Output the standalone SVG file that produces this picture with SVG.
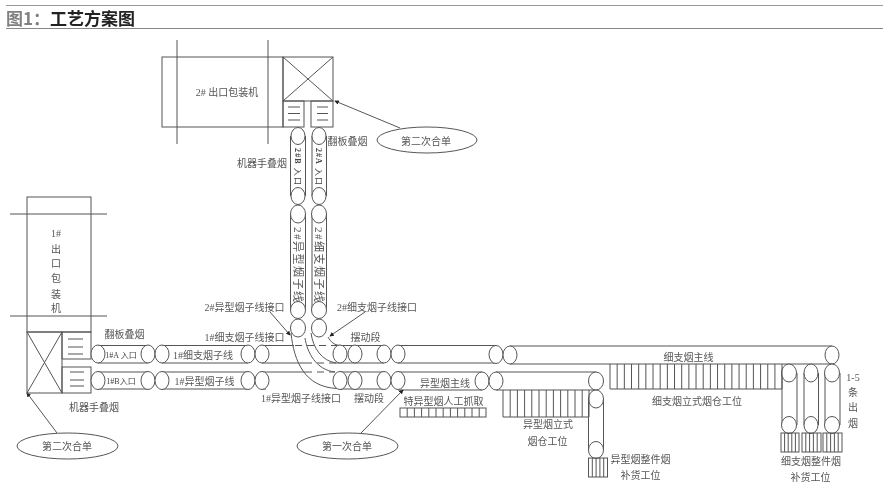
<svg xmlns="http://www.w3.org/2000/svg" width="883" height="487" viewBox="0 0 883 487">
<defs>
<style>
.l{fill:none;stroke:#555;stroke-width:1}
.f{fill:#fff;stroke:#555;stroke-width:1}
.d{fill:none;stroke:#555;stroke-width:1;stroke-dasharray:7 5}
.a{fill:none;stroke:#555;stroke-width:1;marker-end:url(#dot)}
text{font-family:"Liberation Serif","Noto Sans CJK SC",serif;font-size:10px;fill:#555;text-anchor:middle}
.s{font-size:8px;fill:#444}
.b{font-weight:700}
.v{font-size:11px}
.t{font-family:"Noto Sans CJK SC","Liberation Sans",sans-serif;font-size:17px;font-weight:700;text-anchor:start}
</style>
<marker id="dot" viewBox="0 0 6 6" refX="5" refY="3" markerWidth="4.500" markerHeight="4.500" orient="auto" markerUnits="userSpaceOnUse"><path d="M0 0L6 3L0 6z" fill="#222"/></marker>
<filter id="soft" x="0" y="0" width="100%" height="100%"><feGaussianBlur stdDeviation="0.35"/></filter>
</defs>
<rect width="883" height="487" fill="#fff"/>
<g filter="url(#soft)">
<g id="header">
<path d="M6 5H883" stroke="#777" stroke-width="1.5" fill="none"/>
<path d="M6 28.500H883" stroke="#888" stroke-width="1.2" fill="none"/>
<text class="t" x="6" y="25" style="fill:#808080">图1：</text>
<text class="t" x="50" y="25" style="fill:#222">工艺方案图</text>
</g>
<g id="connectors">
<path class="l" d="M290.500 136V196M305.500 136V196M312 136V196M326.500 136V196"/>
<path class="l" d="M290.500 214V310M305.500 214V310M312 214V310M326.500 214V310"/>
<path class="l" d="M98 345.500H148M98 363H148M98 372H148M98 389H148"/>
<path class="l" d="M162 345.500H248M162 363H248M162 372H248M162 389H248"/>
<path class="l" d="M262 345.500H294M262 363H305M262 372H305M262 389H266"/>
<path class="d" d="M295 345.500H337M305 363H329M305 372H335"/>
<path class="l" d="M291 333C294 362 305 387 337 388.500"/>
<path class="l" d="M305 338C307 352 316 370 335 372"/>
<path class="l" d="M311 333C313 348 322 361 336 363"/>
<path class="l" d="M328 337C331 342 334 345 340 345.500"/>
<path class="l" d="M329 363H355M340 345.500H355M340 372H355M340 389H355"/>
<path class="l" d="M355 345.500H384M355 363H384M355 372H384M355 389H384"/>
<path class="l" d="M398 345.500H496M398 363H496M398 372H482M398 390H482"/>
<path class="l" d="M510 346H832M510 364H832"/>
<path class="l" d="M496 372H596M496 390H596"/>
<path class="l" d="M588.500 399V450M603.500 399V450"/>
<path class="l" d="M782 373V425M797 373V425M804 373V425M818.500 373V425M825 373V425M840 373V425"/>
<path class="a" d="M400 128L335 101"/>
<path class="a" d="M57 433L27 393"/>
<path class="a" d="M361 433L403 390"/>
<path class="a" d="M270 312L290 335"/>
<path class="a" d="M365 312L330 336"/>
</g>
<g id="machine-2">
<rect class="l" x="162" y="57" width="121" height="70"/>
<path class="l" d="M177 40V144M268 40V144"/>
<text x="227" y="96">2# 出口包装机</text>
</g>
<g id="merge-box-2">
<rect class="l" x="283" y="57" width="50" height="44"/>
<path class="l" d="M283 57L333 101M333 57L283 101"/>
<rect class="l" x="283" y="101" width="21" height="26"/>
<rect class="l" x="311" y="101" width="22" height="26"/>
<path class="l" d="M288 107H300M288 113.500H300M288 120H300M317 107H328M317 113.500H328M317 120H328"/>
</g>
<g id="machine-1">
<rect class="l" x="27" y="197" width="64" height="135"/>
<path class="l" d="M10 214H107M10 316H107"/>
<text x="56" y="237">1#</text>
<text x="56" y="253">出</text>
<text x="56" y="267">口</text>
<text x="56" y="282">包</text>
<text x="56" y="298">装</text>
<text x="56" y="312">机</text>
</g>
<g id="merge-box-1">
<rect class="l" x="27" y="332" width="35" height="61"/>
<path class="l" d="M27 332L62 393M62 332L27 393"/>
<rect class="l" x="62" y="332" width="29" height="27"/>
<rect class="l" x="62" y="367" width="29" height="26"/>
<path class="l" d="M68 339H83M68 347H83M68 354H83M70 372H84M70 380H84M70 386H84"/>
</g>
<g id="rollers">
<g class="f">
<ellipse cx="298" cy="136" rx="7" ry="8.500"/><ellipse cx="319" cy="136" rx="7" ry="8.500"/>
<ellipse cx="298" cy="196" rx="7" ry="8.500"/><ellipse cx="319" cy="196" rx="7" ry="8.500"/>
<ellipse cx="298" cy="214" rx="7.500" ry="9"/><ellipse cx="319" cy="214" rx="7.500" ry="9"/>
<ellipse cx="298" cy="310" rx="7.500" ry="8.500"/><ellipse cx="319" cy="310" rx="7.500" ry="8.500"/>
<ellipse cx="298" cy="328" rx="7.500" ry="9"/><ellipse cx="319" cy="328" rx="7.500" ry="9"/>
<ellipse cx="98" cy="354" rx="7" ry="9"/><ellipse cx="148" cy="354" rx="7" ry="9"/><ellipse cx="162" cy="354" rx="7" ry="9"/><ellipse cx="248" cy="354" rx="7" ry="9"/><ellipse cx="262" cy="354" rx="7" ry="9"/><ellipse cx="340" cy="354" rx="7" ry="9"/><ellipse cx="355" cy="354" rx="7" ry="9"/><ellipse cx="384" cy="354" rx="7" ry="9"/><ellipse cx="398" cy="354" rx="7" ry="9"/><ellipse cx="496" cy="354.500" rx="7" ry="9"/><ellipse cx="510" cy="355" rx="7" ry="9"/><ellipse cx="832" cy="355" rx="7" ry="9"/>
<ellipse cx="98" cy="380.500" rx="7" ry="9"/><ellipse cx="148" cy="380.500" rx="7" ry="9"/><ellipse cx="162" cy="380.500" rx="7" ry="9"/><ellipse cx="248" cy="380.500" rx="7" ry="9"/><ellipse cx="262" cy="380.500" rx="7" ry="9"/><ellipse cx="340" cy="380.500" rx="7" ry="9"/><ellipse cx="355" cy="380.500" rx="7" ry="9"/><ellipse cx="384" cy="380.500" rx="7" ry="9"/><ellipse cx="398" cy="380.500" rx="7" ry="9"/><ellipse cx="482" cy="381" rx="7" ry="9"/><ellipse cx="496" cy="381" rx="7" ry="9"/><ellipse cx="596" cy="381" rx="7.500" ry="9"/>
<ellipse cx="596" cy="399" rx="7.500" ry="9"/><ellipse cx="596" cy="450" rx="7.500" ry="8.500"/>
<ellipse cx="789" cy="373" rx="7.500" ry="9"/><ellipse cx="811" cy="373" rx="7" ry="9"/><ellipse cx="832" cy="373" rx="7.500" ry="9"/>
<ellipse cx="789" cy="425" rx="7.500" ry="8.500"/><ellipse cx="811" cy="425" rx="7" ry="8.500"/><ellipse cx="832" cy="425" rx="7.500" ry="8.500"/>
</g>
</g>
<g id="rack-special">
<rect class="l" x="400" y="408" width="86" height="9"/>
<path class="l" d="M407.200 408v9m7.200-9v9m7.200-9v9m7.200-9v9m7.200-9v9m7.200-9v9m7.200-9v9m7.200-9v9m7.200-9v9m7.200-9v9m7.200-9v9"/>
</g>
<g id="rack-yixing">
<path class="l" d="M503 390V417H589V390"/>
<path class="l" d="M510.200 390v27m7.200-27v27m7.200-27v27m7.200-27v27m7.200-27v27m7.200-27v27m7.200-27v27m7.200-27v27m7.200-27v27m7.200-27v27m7.200-27v27"/>
</g>
<g id="rack-xizhi">
<path class="l" d="M610 364V389H782V364"/>
<path class="l" d="M617.170 364v25m7.170-25v25m7.170-25v25m7.170-25v25m7.170-25v25m7.170-25v25m7.170-25v25m7.170-25v25m7.170-25v25m7.170-25v25m7.170-25v25m7.170-25v25m7.170-25v25m7.170-25v25m7.170-25v25m7.170-25v25m7.170-25v25m7.170-25v25m7.170-25v25m7.170-25v25m7.170-25v25m7.170-25v25m7.170-25v25"/>
</g>
<g id="pallets">
<rect class="l" x="588.500" y="458" width="19" height="19"/>
<path class="l" d="M592.300 458v19m3.800-19v19m3.800-19v19m3.800-19v19"/>
<rect class="l" x="781" y="433" width="18" height="19"/>
<path class="l" d="M784.600 433v19m3.600-19v19m3.600-19v19m3.600-19v19"/>
<rect class="l" x="802" y="433" width="19" height="19"/>
<path class="l" d="M805.800 433v19m3.800-19v19m3.800-19v19m3.800-19v19"/>
<rect class="l" x="823" y="433" width="19" height="19"/>
<path class="l" d="M826.800 433v19m3.800-19v19m3.800-19v19m3.800-19v19"/>
</g>
<g id="merge-2-note"><ellipse class="f" cx="427" cy="140" rx="50" ry="13"/><text x="426" y="145">第二次合单</text></g>
<g id="merge-1-note"><ellipse class="f" cx="67.500" cy="446" rx="50.500" ry="13"/><text x="67" y="450">第二次合单</text></g>
<g id="merge-first-note"><ellipse class="f" cx="347.500" cy="446" rx="50.500" ry="13"/><text x="347" y="450">第一次合单</text></g>
<g id="labels">
<text x="262" y="167">机器手叠烟</text>
<text x="347.500" y="145">翻板叠烟</text>
<text class="s" textLength="37" transform="translate(295,166.500) rotate(90)"><tspan class="b">2#B</tspan> 入口</text>
<text class="s" textLength="37" transform="translate(316,166.500) rotate(90)"><tspan class="b">2#A</tspan> 入口</text>
<text class="v" textLength="75" transform="translate(293.500,264.500) rotate(90)">2#异型烟子线</text>
<text class="v" textLength="75" transform="translate(315,264.500) rotate(90)">2#细支烟子线</text>
<text x="244.500" y="311">2#异型烟子线接口</text>
<text x="377" y="311">2#细支烟子线接口</text>
<text x="244.500" y="341">1#细支烟子线接口</text>
<text x="365.500" y="341">摆动段</text>
<text x="124.500" y="338">翻板叠烟</text>
<text class="s" x="121" y="358">1#A 入口</text>
<text class="s" x="121" y="384">1#B入口</text>
<text x="203" y="358.500">1#细支烟子线</text>
<text x="204.500" y="385">1#异型烟子线</text>
<text x="94" y="411">机器手叠烟</text>
<text x="301" y="402">1#异型烟子线接口</text>
<text x="369" y="402">摆动段</text>
<text x="445" y="387">异型烟主线</text>
<text x="443.500" y="405">特异型烟人工抓取</text>
<text x="688.500" y="361">细支烟主线</text>
<text x="697" y="405">细支烟立式烟仓工位</text>
<text x="548" y="428">异型烟立式</text>
<text x="547.500" y="445">烟仓工位</text>
<text x="640.500" y="463">异型烟整件烟</text>
<text x="640.500" y="479">补货工位</text>
<text x="811" y="465">细支烟整件烟</text>
<text x="810.500" y="481">补货工位</text>
<text x="853" y="381">1-5</text>
<text x="853" y="396">条</text>
<text x="853" y="411">出</text>
<text x="853" y="427">烟</text>
</g>
</g>
</svg>
